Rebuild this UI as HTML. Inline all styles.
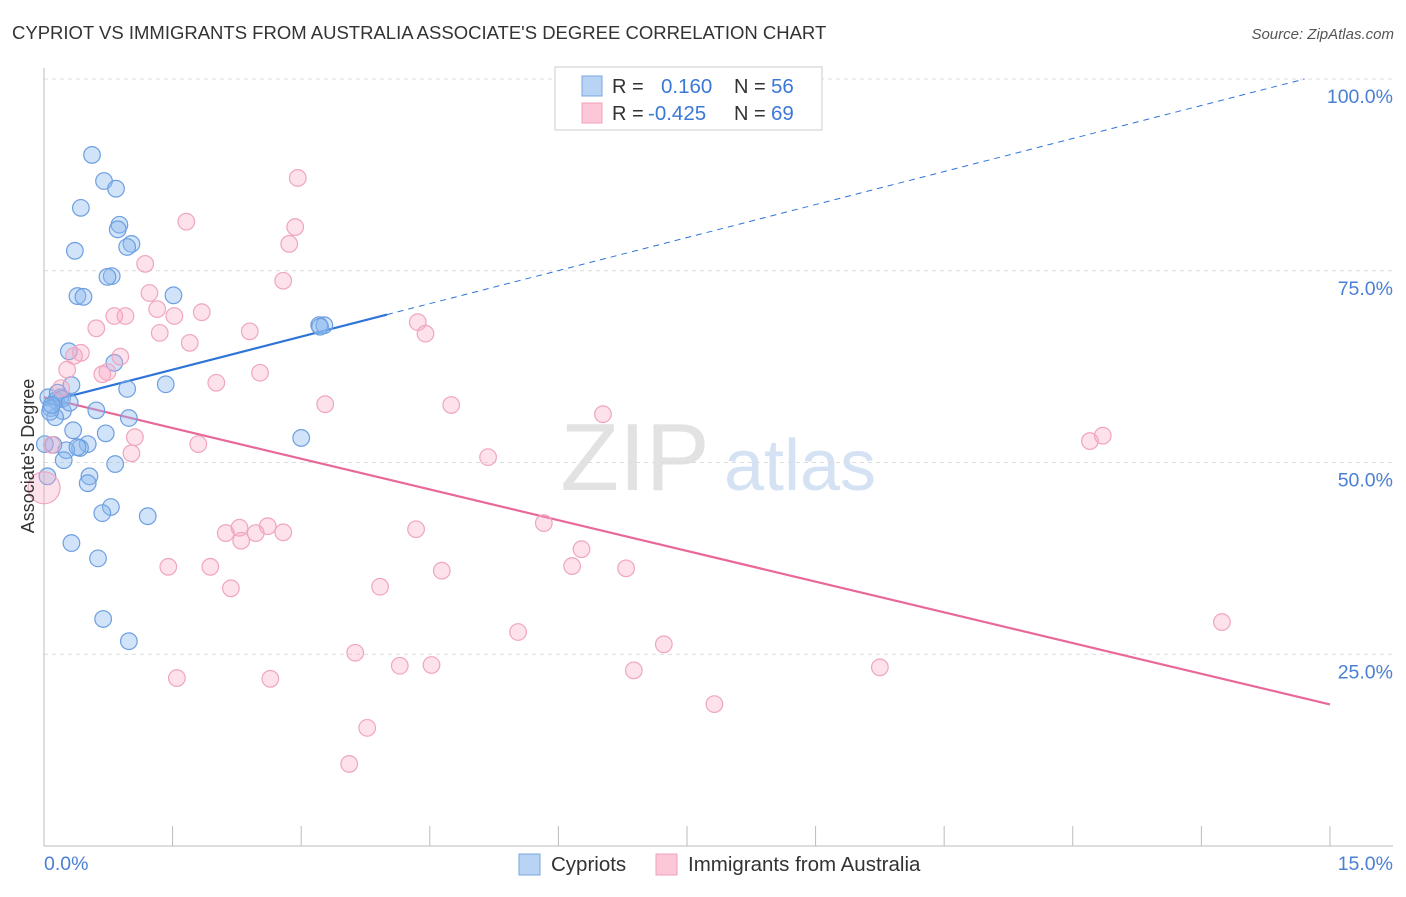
<!DOCTYPE html>
<html><head><meta charset="utf-8">
<style>
body{margin:0;background:#fff;font-family:"Liberation Sans",sans-serif;}
svg text{font-family:"Liberation Sans",sans-serif;}
</style></head>
<body>
<svg id="chart" width="1406" height="892" xmlns="http://www.w3.org/2000/svg">
<text x="12" y="39" font-size="18.5" fill="#333">CYPRIOT VS IMMIGRANTS FROM AUSTRALIA ASSOCIATE'S DEGREE CORRELATION CHART</text>
<text x="1394" y="39" font-size="15" fill="#555" font-style="italic" text-anchor="end">Source: ZipAtlas.com</text>
<g>
<text x="635" y="490" font-size="96" font-family="Liberation Serif,serif" fill="#e2e2e2" text-anchor="middle">ZIP</text>
<text x="800" y="490" font-size="72" fill="#d4e2f4" text-anchor="middle">atlas</text>
</g>
<g id="grid"></g>
<g id="axes"></g>
<g id="trend"></g>
<g id="points"></g>
<text x="34" y="456" font-size="18" fill="#333" text-anchor="middle" transform="rotate(-90 34 456)">Associate's Degree</text>
<text x="44" y="870" font-size="19.5" fill="#4a7fd4">0.0%</text>
<text x="1393" y="870" font-size="19.5" fill="#4a7fd4" text-anchor="end">15.0%</text>
<g>
<rect x="555" y="67" width="267" height="63" fill="#fff" stroke="#ccc"/>
<rect x="582" y="76" width="20" height="20" fill="#b8d3f4" stroke="#7aa7e0"/>
<rect x="582" y="103" width="20" height="20" fill="#fcc8d8" stroke="#f0a0bc"/>
<text x="612" y="93" font-size="20" fill="#333">R =</text>
<text x="661" y="93" font-size="20.5" fill="#3b78d8">0.160</text>
<text x="734" y="93" font-size="20" fill="#333">N =</text>
<text x="771" y="93" font-size="20.5" fill="#3b78d8">56</text>
<text x="612" y="120" font-size="20" fill="#333">R =</text>
<text x="648" y="120" font-size="20.5" fill="#3b78d8">-0.425</text>
<text x="734" y="120" font-size="20" fill="#333">N =</text>
<text x="771" y="120" font-size="20.5" fill="#3b78d8">69</text>
</g>
<g>
<rect x="519" y="854" width="21" height="21" fill="#b8d3f4" stroke="#7aa7e0"/>
<text x="551" y="871" font-size="20.5" fill="#333">Cypriots</text>
<rect x="656" y="854" width="21" height="21" fill="#fcc8d8" stroke="#f0a0bc"/>
<text x="688" y="871" font-size="20.5" fill="#333">Immigrants from Australia</text>
</g>
</svg>
<script>
const blueX=[0.56,0.70,0.84,0.43,0.88,0.86,1.02,0.97,0.36,0.79,0.74,0.39,0.46,1.51,0.29,0.82,1.42,0.32,0.97,0.19,0.05,0.14,0.08,0.22,0.61,0.13,0.99,0.34,0.72,0.11,0.51,0.42,0.26,0.39,0.23,0.83,3.00,0.53,0.51,0.04,0.78,0.68,1.21,0.32,0.63,0.69,0.99,3.21,3.27,3.22,0.07,0.01,0.16,0.21,0.09,0.30];
const blueY=[90.1,86.7,85.7,83.2,81.0,80.4,78.5,78.1,77.6,74.3,74.2,71.7,71.6,71.8,64.5,63.0,60.2,60.1,59.6,58.5,58.5,58.1,57.1,56.7,56.8,55.9,55.8,54.2,53.8,52.3,52.4,51.9,51.6,52.0,50.3,49.8,53.2,48.2,47.3,48.2,44.2,43.4,43.0,39.5,37.5,29.6,26.7,67.9,67.9,67.7,56.6,52.4,59.1,58.3,57.5,57.8];
const pinkX=[2.96,1.66,2.93,2.86,1.18,2.79,1.23,1.32,0.82,0.95,1.84,1.52,0.61,2.40,4.36,4.45,1.35,1.70,0.43,0.35,0.89,0.27,0.74,0.68,2.52,2.01,0.20,3.28,4.75,6.52,1.06,1.80,1.02,5.18,12.20,12.35,0.09,0.0,5.83,2.28,2.12,2.61,2.47,2.79,4.34,2.30,6.27,1.45,1.94,4.64,6.16,6.79,2.18,3.92,5.53,7.23,13.74,3.63,4.15,4.52,9.75,6.88,1.55,2.64,7.82,3.77,3.56];
const pinkY=[87.1,81.4,80.7,78.5,75.9,73.7,72.1,70.0,69.1,69.1,69.6,69.1,67.5,67.1,68.3,66.8,66.9,65.6,64.3,63.9,63.8,62.1,61.8,61.5,61.7,60.4,59.7,57.6,57.5,56.3,53.3,52.4,51.2,50.7,52.8,53.5,52.3,46.7,42.1,41.5,40.8,41.7,40.8,40.9,41.3,39.8,38.7,36.4,36.4,35.9,36.5,36.2,33.6,33.8,27.9,26.3,29.2,25.2,23.5,23.6,23.3,22.9,21.9,21.8,18.5,15.4,10.7];
const yTicks=[25,50,75,100];
const yTickLabels=["25.0%","50.0%","75.0%","100.0%"];
const xTicks=[0,1.5,3,4.5,6,7.5,9,10.5,12,13.5,15];
const blueTrend=[57.8,2.87];
const pinkTrend=[58.5,-2.67];
const blueSolidEnd=4.0;
const NS="http://www.w3.org/2000/svg";
const sx=v=>44+v*85.73, sy=v=>846-v*7.67;
function mk(tag,attrs,parent){const e=document.createElementNS(NS,tag);for(const k in attrs)e.setAttribute(k,attrs[k]);parent.appendChild(e);return e;}
const grid=document.getElementById('grid'),axes=document.getElementById('axes'),trend=document.getElementById('trend'),pts=document.getElementById('points');
yTicks.forEach((t,i)=>{
 const l=mk('line',{x1:44,x2:1393,y1:sy(t),y2:sy(t),stroke:'#dcdcdc','stroke-dasharray':'4,4'},grid);
 
 
 const tx=mk('text',{x:1393,y:sy(t)+24,'font-size':19.5,fill:'#4a7fd4','text-anchor':'end'},grid);
 tx.textContent=yTickLabels[i];
 
 
});
const xa=mk('line',{x1:44,x2:1393,y1:846,y2:846,stroke:'#bbb'},axes);


const ya=mk('line',{x1:44,x2:44,y1:68,y2:846,stroke:'#bbb'},axes);


xTicks.forEach(t=>{const l=mk('line',{x1:sx(t),x2:sx(t),y1:826,y2:846,stroke:'#bbb'},axes);
 
 });
function dot(x,y,r,fill,stroke,name){const c=mk('circle',{cx:sx(x),cy:sy(y),r:r,fill:fill,stroke:stroke,'stroke-width':1.2},pts);
 
 }
blueX.forEach((x,i)=>dot(x,blueY[i],8.3,'rgba(140,185,240,0.4)','#6d9fe0','cypriot-point'));
pinkX.forEach((x,i)=>dot(x,pinkY[i],x===0?16:8.3,'rgba(248,170,198,0.35)','#f0a5c0','australia-point'));
const bt=x=>blueTrend[0]+blueTrend[1]*x, pt=x=>pinkTrend[0]+pinkTrend[1]*x;
const bx2=(100-blueTrend[0])/blueTrend[1];
const b1=mk('line',{x1:sx(0),y1:sy(bt(0)),x2:sx(blueSolidEnd),y2:sy(bt(blueSolidEnd)),stroke:'#2f74d8','stroke-width':2.2},trend);


const b2=mk('line',{x1:sx(blueSolidEnd),y1:sy(bt(blueSolidEnd)),x2:sx(bx2),y2:sy(100),stroke:'#2f74d8','stroke-width':1,'stroke-dasharray':'6,5'},trend);


const p1=mk('line',{x1:sx(0),y1:sy(pt(0)),x2:sx(15),y2:sy(pt(15)),stroke:'#e8689a','stroke-width':2.2},trend);


</script>
</body></html>
